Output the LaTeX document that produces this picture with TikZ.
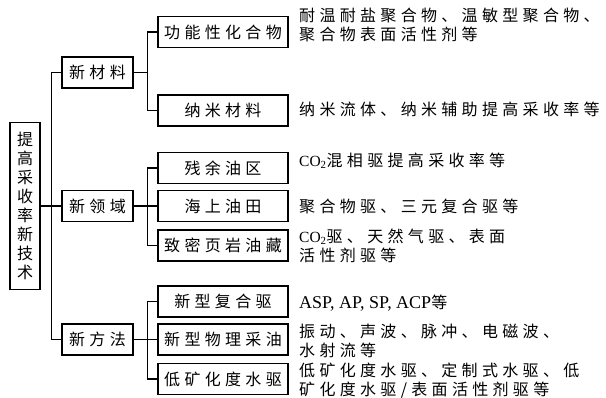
\documentclass[tikz,border=0pt]{standalone}
\usepackage{fontspec}
\setmainfont{Liberation Serif}
\newfontfamily\cjk[LetterSpace=27]{Noto Sans CJK SC}
\newfontfamily\cjkn{Noto Sans CJK SC}
\newcommand\latn[1]{{\rmfamily\fontsize{18}{19}\selectfont #1}}
\newcommand\cotwo{{\rmfamily\fontsize{15.5}{19}\selectfont CO\textsubscript{2}}}
\begin{document}
\begin{tikzpicture}[x=1pt,y=-1pt,
  box/.style={draw, line width=1.2pt, minimum height=31pt, inner sep=0pt, font=\cjk\fontsize{16}{19}\selectfont},
  lone/.style={box, minimum width=71pt},
  ltwo/.style={box, minimum width=130pt},
  desc/.style={anchor=west, align=left, inner sep=0pt, font=\cjk\fontsize{16}{19}\selectfont},
  conn/.style={line width=1.2pt}]
\useasboundingbox (0,0) rectangle (606,397);
\node[box, minimum width=30pt, minimum height=167pt, align=center, font=\cjkn\fontsize{16}{19}\selectfont] (root) at (25,206) {提\\高\\采\\收\\率\\新\\技\\术};
\node[lone] (m1) at (97.5,72.5) {新材料};
\node[lone] (m2) at (97.5,206) {新领域};
\node[lone] (m3) at (97.5,339.5) {新方法};
\node[ltwo] (a1) at (223,32) {功能性化合物};
\node[ltwo] (a2) at (223,110.5) {纳米材料};
\node[ltwo] (b1) at (223,168) {残余油区};
\node[ltwo] (b2) at (223,206) {海上油田};
\node[ltwo] (b3) at (223,245.5) {致密页岩油藏};
\node[ltwo] (c1) at (223,301.5) {新型复合驱};
\node[ltwo] (c2) at (223,339.5) {新型物理采油};
\node[ltwo] (c3) at (223,379) {低矿化度水驱};
\node[desc] (da1) at (299,24.5) {耐温耐盐聚合物、温敏型聚合物、\\聚合物表面活性剂等};
\node[desc] (da2) at (299,109.5) {纳米流体、纳米辅助提高采收率等};
\node[desc] (db1) at (299,161) {\cotwo 混相驱提高采收率等};
\node[desc] (db2) at (299,206) {聚合物驱、三元复合驱等};
\node[desc] (db3) at (299,246) {\cotwo 驱、天然气驱、表面\\活性剂驱等};
\node[desc] (dc1) at (299,303) {\latn{ASP, AP, SP, ACP}等};
\node[desc] (dc2) at (299,341) {振动、声波、脉冲、电磁波、\\水射流等};
\node[desc] (dc3) at (299,381) {低矿化度水驱、定制式水驱、低\\矿化度水驱/表面活性剂驱等};
\draw[conn] (root.east) -- (m2.west);
\draw[conn] (m1.west) -- ++(-10,0) |- (m3.west);
\draw[conn] (a1.west) -- ++(-10,0) coordinate (ja) |- (a2.west);
\draw[conn] (m1.east) -- (m1.east -| ja);
\draw[conn] (b1.west) -- ++(-10,0) |- (b3.west);
\draw[conn] (m2.east) -- (b2.west);
\draw[conn] (c1.west) -- ++(-10,0) |- (c3.west);
\draw[conn] (m3.east) -- (c2.west);
\end{tikzpicture}
\end{document}
